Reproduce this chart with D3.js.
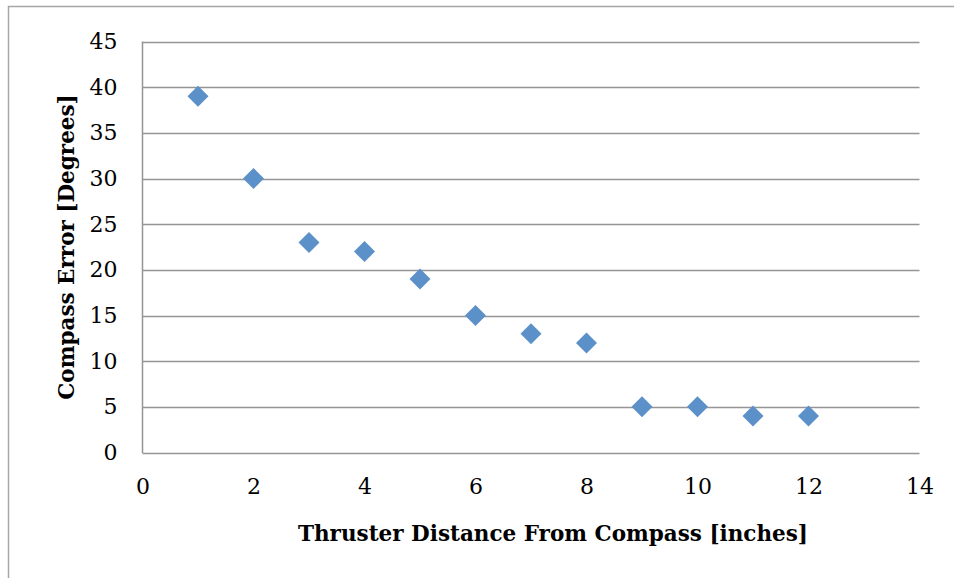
<!DOCTYPE html>
<html><head><meta charset="utf-8">
<script src="https://cdn.jsdelivr.net/npm/d3@7"></script>
<style>html,body{margin:0;padding:0;background:#fff;}</style>
</head><body>
<svg id="c" width="954" height="578"></svg>
<script>
const distances = [1,2,3,4,5,6,7,8,9,10,11,12];
const errors = [39,30,23,22,19,15,13,12,5,5,4,4];
const xTicks = [0,2,4,6,8,10,12,14];
const yTicks = [0,5,10,15,20,25,30,35,40,45];
const xTitle = "Thruster Distance From Compass [inches]";
const yTitle = "Compass Error [Degrees]";

const svg = d3.select("#c");
const font = "'DejaVu Serif', serif";
const L=142.5, R=919.5, T=41.5, B=452.5;
const x = d3.scaleLinear().domain([0,14]).range([L,R]);
const y = d3.scaleLinear().domain([0,45]).range([B,T]);

svg.append("rect").attr("x",8.5).attr("y",6.5).attr("width",960).attr("height",600)
  .attr("fill","#fff").attr("stroke","#a6a6a6").attr("stroke-width",1.5);

// gridlines
svg.append("g").selectAll("line").data(yTicks).join("line")
  .attr("x1",L).attr("x2",R).attr("y1",d=>Math.round(y(d))+0.5).attr("y2",d=>Math.round(y(d))+0.5)
  .attr("stroke","#959595").attr("stroke-width",1.5);
svg.append("line").attr("x1",L).attr("x2",L).attr("y1",T).attr("y2",B+0.5)
  .attr("stroke","#959595").attr("stroke-width",1.5);

// axes labels via d3 axes
const yAxis = svg.append("g").attr("transform",`translate(${L},0)`)
  .call(d3.axisLeft(y).tickValues(yTicks).tickSize(0).tickPadding(25));
const xAxis = svg.append("g").attr("transform",`translate(0,${B})`)
  .call(d3.axisBottom(x).tickValues(xTicks).tickSize(0).tickPadding(26));
[yAxis,xAxis].forEach(a=>{
  a.select(".domain").remove();
  a.selectAll("text").attr("font-family",font).attr("font-size",22).attr("fill","#000");
});

// points
svg.append("g").selectAll("path").data(distances.map((d,i)=>[d,errors[i]])).join("path")
  .attr("d", d3.symbol().type(d3.symbolSquare).size(220)())
  .attr("transform",d=>`translate(${x(d[0])},${y(d[1])}) rotate(45)`)
  .attr("fill","#5b90c8");

svg.append("text").attr("x",553).attr("y",541).attr("text-anchor","middle")
  .attr("font-family",font).attr("font-weight","bold").attr("font-size",21.5).text(xTitle);
svg.append("text").attr("transform","translate(74,247) rotate(-90)").attr("text-anchor","middle")
  .attr("font-family",font).attr("font-weight","bold").attr("font-size",21.5).text(yTitle);
</script>
</body></html>
